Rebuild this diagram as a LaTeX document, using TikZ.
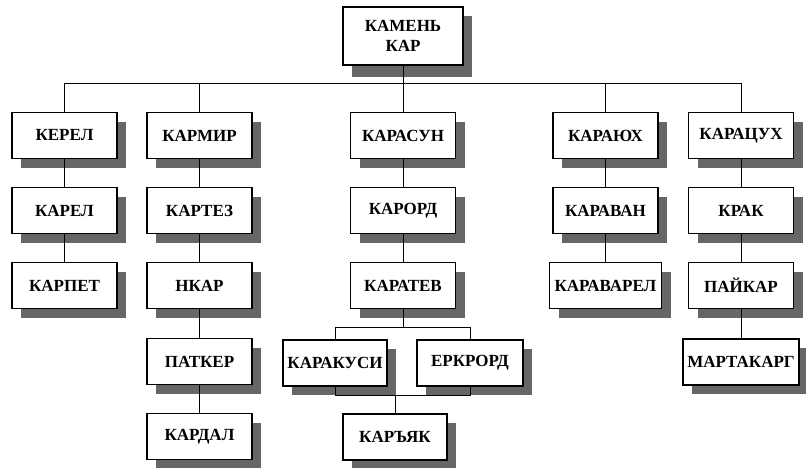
\documentclass[tikz,border=0pt]{standalone}
\usepackage{fontspec}
\setmainfont{Liberation Serif}
\usetikzlibrary{shadows}
\begin{document}
\begin{tikzpicture}[x=1pt,y=-1pt,
  wbox/.style={draw=black,line width=1.2pt,fill=white,minimum width=105pt,minimum height=46pt,inner sep=0pt,
    font=\fontsize{17}{19.5}\selectfont\bfseries,
    drop shadow={shadow xshift=9pt,shadow yshift=-9pt,fill=black!60,opacity=1}},
  topbox/.style={wbox,line width=2.4pt,minimum width=120pt,minimum height=58pt,align=center,
    drop shadow={shadow xshift=9pt,shadow yshift=-12pt,fill=black!60,opacity=1}},
  conn/.style={draw=black,line width=0.9pt}]
\useasboundingbox (0,0) rectangle (806,467);
% top
\node[topbox] (top) at (403,36) {КАМЕНЬ\\КАР};
% column 1
\node[wbox] (kerel) at (64.5,135.5) {КЕРЕЛ};
\node[wbox] (karel) at (64.5,210.5) {КАРЕЛ};
\node[wbox] (karpet) at (64.5,285.5) {КАРПЕТ};
% column 2
\node[wbox] (karmir) at (199.5,135.5) {КАРМИР};
\node[wbox] (kartez) at (199.5,210.5) {КАРТЕЗ};
\node[wbox] (nkar) at (199.5,285.5) {НКАР};
\node[wbox] (patker) at (199.5,361.5) {ПАТКЕР};
\node[wbox] (kardal) at (199.5,436.5) {КАРДАЛ};
% column 3
\node[wbox] (karasun) at (403,135.5) {КАРАСУН};
\node[wbox] (karord) at (403,210.5) {КАРОРД};
\node[wbox] (karatev) at (403,285.5) {КАРАТЕВ};
\node[wbox,minimum width=104pt] (karakusi) at (335,363) {КАРАКУСИ};
\node[wbox,minimum width=106pt] (erkrord) at (470,363) {ЕРКРОРД};
\node[wbox,minimum width=104pt] (karyak) at (395,437) {КАРЪЯК};
% column 4
\node[wbox] (karayuh) at (605.5,135.5) {КАРАЮХ};
\node[wbox] (karavan) at (605.5,210.5) {КАРАВАН};
\node[wbox,minimum width=112pt] (karavarel) at (605.5,285.5) {КАРАВАРЕЛ};
% column 5
\node[wbox] (karacuh) at (741,135.5) {КАРАЦУХ};
\node[wbox] (krak) at (741,210.5) {КРАК};
\node[wbox] (paykar) at (741,285.5) {ПАЙКАР};
\node[wbox,minimum width=116pt] (martakarg) at (741,362) {МАРТАКАРГ};
% connectors
\coordinate (bus) at (0,83);
\coordinate (split) at (0,327);
\coordinate (join) at (0,395);
\draw[conn] (top.south) -- (karasun.north);
\draw[conn] (kerel.north) |- (bus -| karacuh.north) -- (karacuh.north);
\draw[conn] (karmir.north) -- (karmir.north |- bus);
\draw[conn] (karayuh.north) -- (karayuh.north |- bus);
\draw[conn] (kerel) -- (karel);
\draw[conn] (karel) -- (karpet);
\draw[conn] (karmir) -- (kartez);
\draw[conn] (kartez) -- (nkar);
\draw[conn] (nkar) -- (patker);
\draw[conn] (patker) -- (kardal);
\draw[conn] (karasun) -- (karord);
\draw[conn] (karord) -- (karatev);
\draw[conn] (karatev.south) -- (karatev.south |- split);
\draw[conn] (karakusi.north) |- (split -| erkrord.north) -- (erkrord.north);
\draw[conn] (karakusi.south) |- (join -| erkrord.south) -- (erkrord.south);
\draw[conn] (karyak.north) -- (karyak.north |- join);
\draw[conn] (karayuh) -- (karavan);
\draw[conn] (karavan) -- (karavarel);
\draw[conn] (karacuh) -- (krak);
\draw[conn] (krak) -- (paykar);
\draw[conn] (paykar) -- (martakarg);
\end{tikzpicture}
\end{document}
